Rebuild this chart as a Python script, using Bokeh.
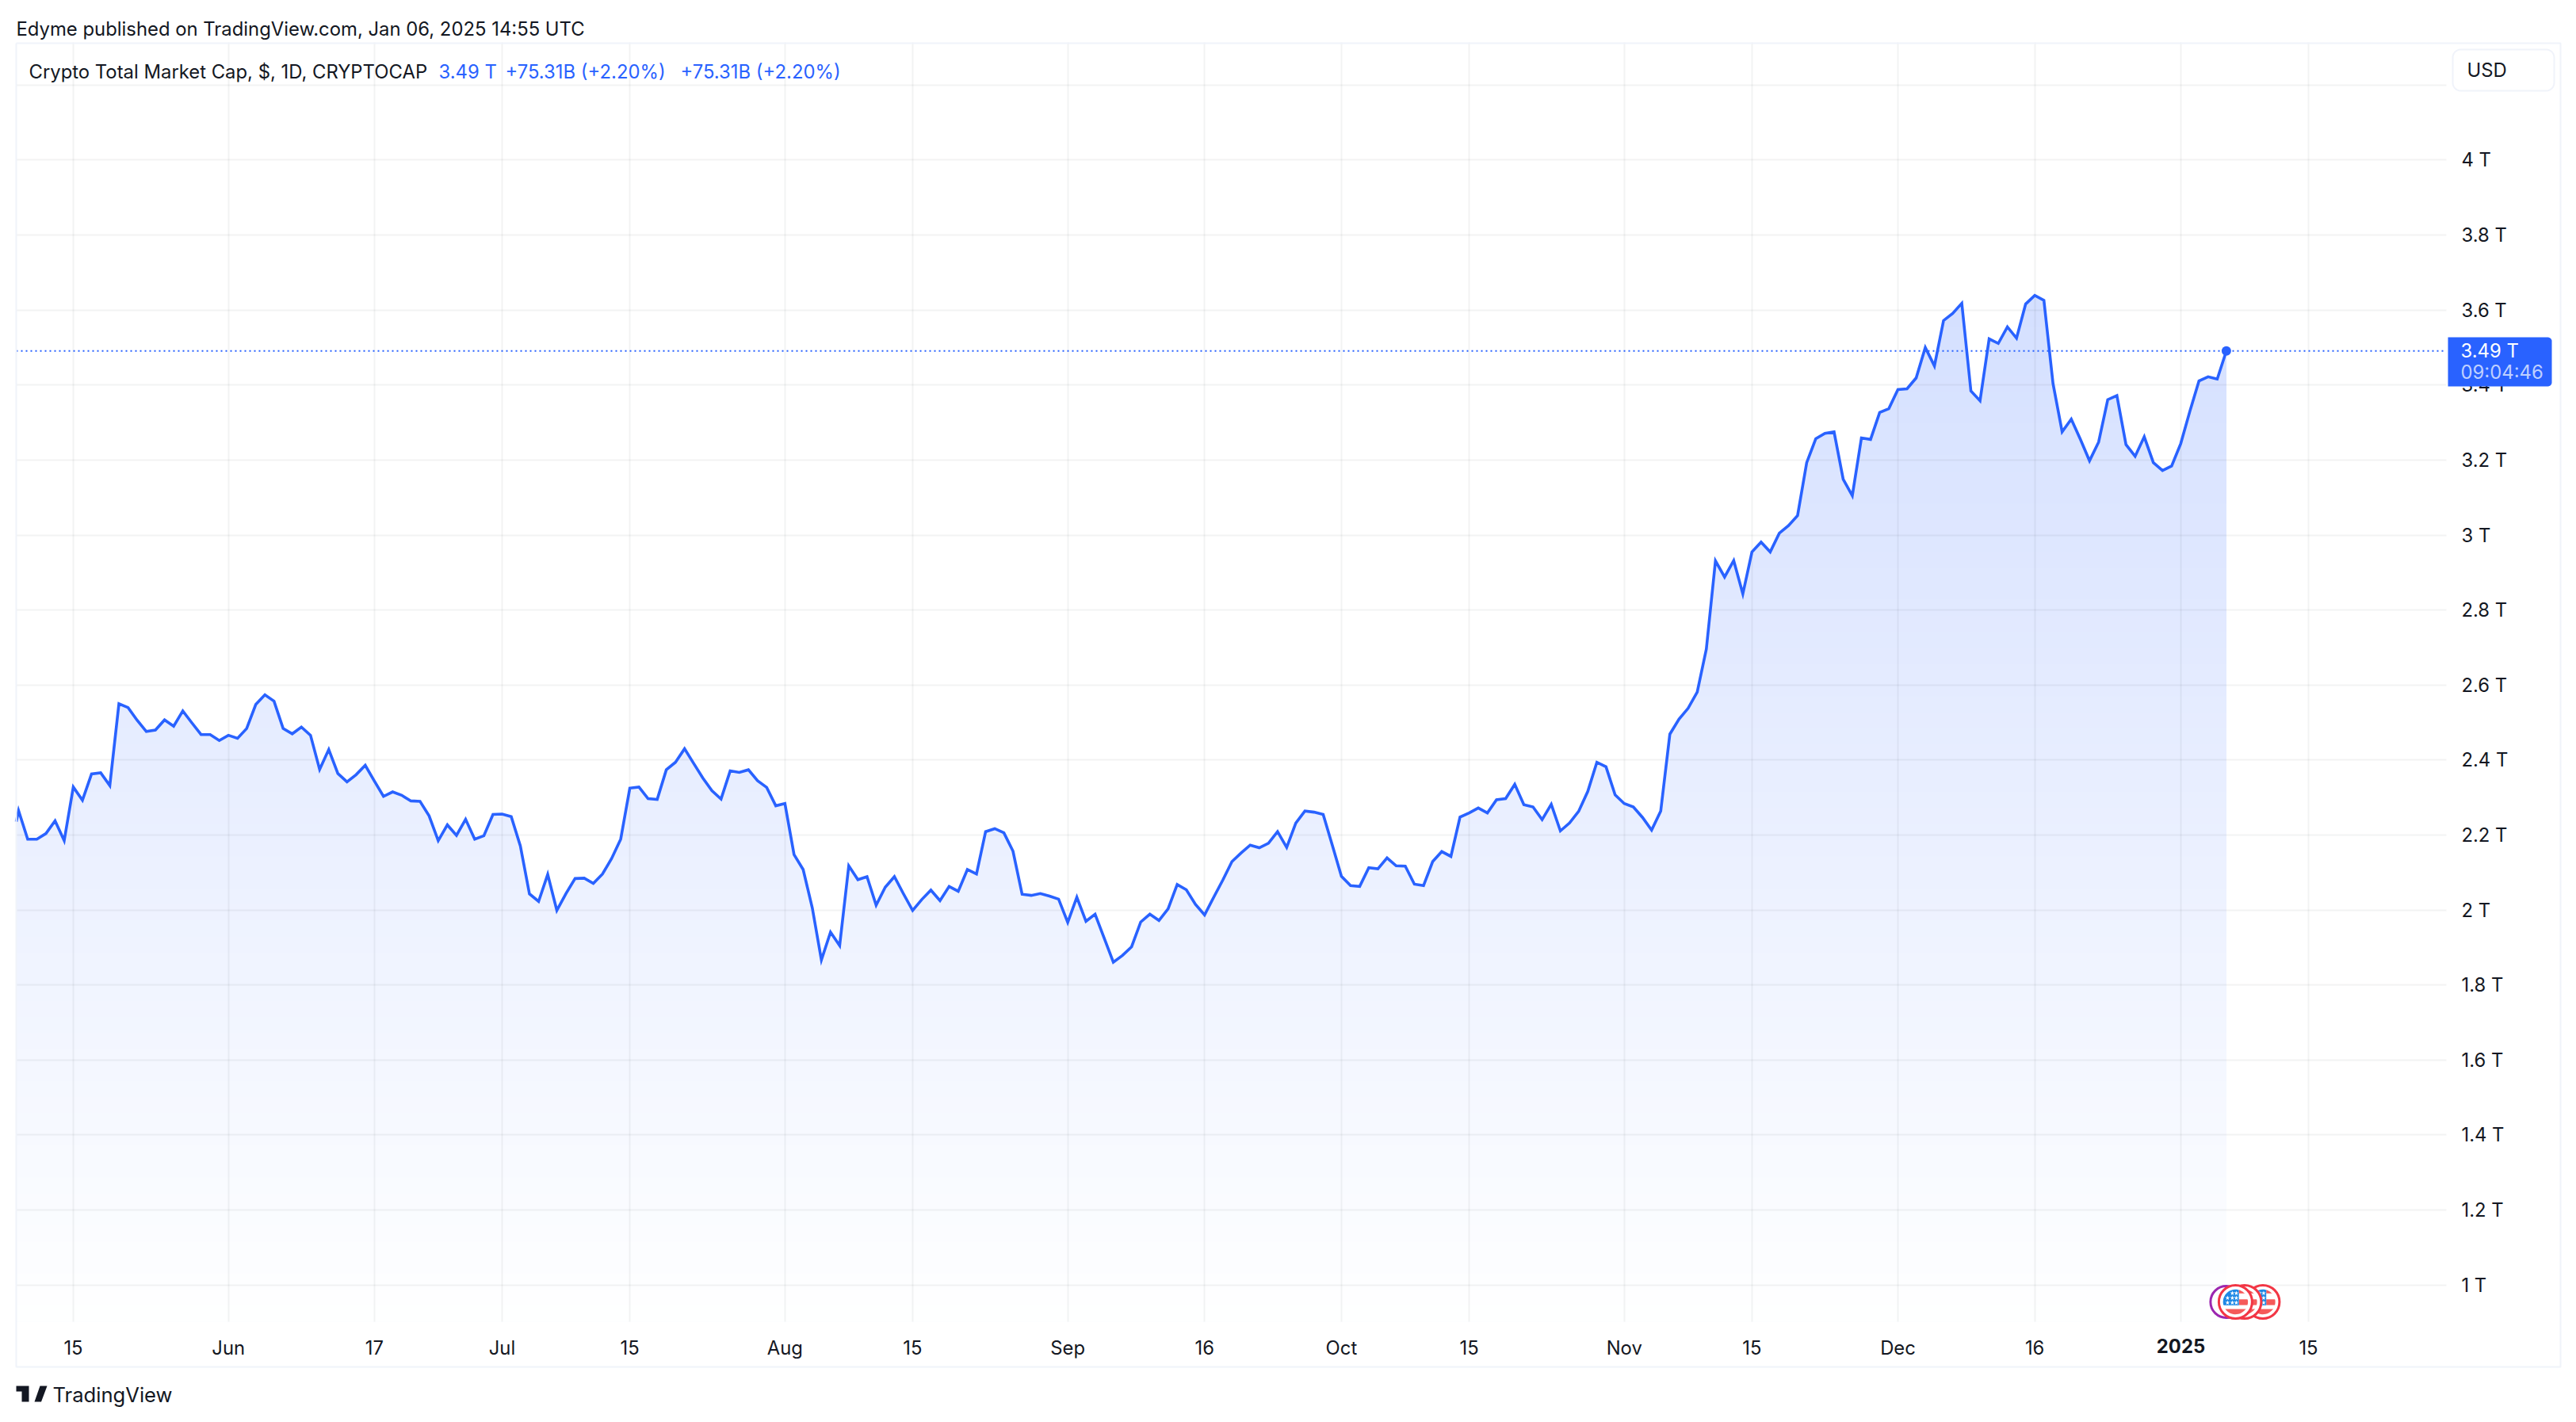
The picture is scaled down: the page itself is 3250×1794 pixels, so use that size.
import numpy as np
import pandas as pd
from bokeh.plotting import figure
from bokeh.embed import file_html
from bokeh.resources import INLINE
from bokeh.models import Range1d, FixedTicker
from bokeh.core.properties import value

# ---- data: daily closing value, trillions USD
may_2024 = [2.150, 2.265, 2.189, 2.189, 2.204, 2.238, 2.185, 2.328, 2.293, 2.363, 2.366, 2.332,
            2.550, 2.540, 2.506, 2.476, 2.480, 2.507, 2.490, 2.531, 2.499, 2.468, 2.468, 2.452]
jun_2024 = [2.466, 2.458, 2.484, 2.548, 2.574, 2.557, 2.484, 2.470, 2.488, 2.466,
            2.375, 2.428, 2.364, 2.342, 2.361, 2.386, 2.344, 2.303, 2.315, 2.306,
            2.291, 2.290, 2.251, 2.185, 2.227, 2.199, 2.242, 2.189, 2.198, 2.255]
jul_2024 = [2.256, 2.249, 2.171, 2.043, 2.023, 2.095, 1.999, 2.044, 2.084, 2.085,
            2.071, 2.096, 2.137, 2.189, 2.325, 2.328, 2.297, 2.295, 2.374, 2.394,
            2.430, 2.391, 2.352, 2.318, 2.296, 2.371, 2.367, 2.374, 2.345, 2.327, 2.278]
aug_2024 = [2.284, 2.148, 2.108, 2.006, 1.867, 1.941, 1.905, 2.118, 2.081, 2.089,
            2.013, 2.061, 2.089, 2.043, 1.999, 2.028, 2.053, 2.025, 2.063, 2.050,
            2.108, 2.096, 2.209, 2.217, 2.206, 2.157, 2.042, 2.039, 2.044, 2.037, 2.029]
sep_2024 = [1.967, 2.034, 1.970, 1.989, 1.925, 1.861, 1.879, 1.902, 1.968, 1.989,
            1.972, 2.003, 2.068, 2.054, 2.015, 1.987, 2.034, 2.080, 2.129, 2.152,
            2.173, 2.166, 2.178, 2.209, 2.167, 2.232, 2.264, 2.261, 2.255, 2.173]
oct_2024 = [2.090, 2.065, 2.063, 2.113, 2.110, 2.139, 2.118, 2.117, 2.069, 2.065,
            2.129, 2.156, 2.143, 2.248, 2.259, 2.272, 2.259, 2.294, 2.297, 2.335,
            2.281, 2.275, 2.241, 2.282, 2.211, 2.232, 2.263, 2.316, 2.394, 2.382, 2.307]
nov_2024 = [2.284, 2.275, 2.247, 2.213, 2.264, 2.469, 2.509, 2.538, 2.581, 2.696,
            2.931, 2.888, 2.932, 2.843, 2.955, 2.981, 2.955, 3.005, 3.025, 3.052,
            3.193, 3.257, 3.271, 3.275, 3.149, 3.105, 3.259, 3.255, 3.327, 3.337]
dec_2024 = [3.388, 3.390, 3.419, 3.500, 3.451, 3.572, 3.591, 3.618, 3.384, 3.358,
            3.523, 3.511, 3.555, 3.525, 3.616, 3.639, 3.626, 3.404, 3.275, 3.309,
            3.255, 3.198, 3.248, 3.361, 3.372, 3.241, 3.210, 3.262, 3.193, 3.172, 3.184]
jan_2025 = [3.244, 3.330, 3.411, 3.422, 3.416, 3.491]

first_day = "2024-05-08"
tick_dates = ["2024-05-15", "2024-06-01", "2024-06-17", "2024-07-01", "2024-07-15", "2024-08-01",
              "2024-08-15", "2024-09-01", "2024-09-16", "2024-10-01", "2024-10-15", "2024-11-01",
              "2024-11-15", "2024-12-01", "2024-12-16", "2025-01-01", "2025-01-15"]
tick_labels = ["15", "Jun", "17", "Jul", "15", "Aug", "15", "Sep", "16", "Oct", "15", "Nov",
               "15", "Dec", "16", "", "15"]
y_ticks = [1.0, 1.2, 1.4, 1.6, 1.8, 2.0, 2.2, 2.4, 2.6, 2.8, 3.0, 3.2, 3.4, 3.6, 3.8, 4.0, 4.2]
y_labels = ["1 T", "1.2 T", "1.4 T", "1.6 T", "1.8 T", "2 T", "2.2 T", "2.4 T", "2.6 T", "2.8 T",
            "3 T", "3.2 T", "3.4 T", "3.6 T", "3.8 T", "4 T", ""]
event_dates_flag = ["2025-01-10", "2025-01-08", "2025-01-07"]
event_date_other = "2025-01-06"

# ---- derived
BLUE = "#2962FF"
INK = "#131722"
FRAME = "#F0F3FA"
FONT = "Inter"
origin = pd.Timestamp("2024-05-15")
vals = may_2024 + jun_2024 + jul_2024 + aug_2024 + sep_2024 + oct_2024 + nov_2024 + dec_2024 + jan_2025
dates = pd.date_range(first_day, periods=len(vals))
x = np.array([(d - origin).days for d in dates], dtype=float)
vals = np.array(vals)
day = lambda s: float((pd.Timestamp(s) - origin).days)
X_MIN, X_MAX = -6.255, 260.12
Y_MIN, Y_MAX = 0.9021, 4.3137
PX_X = 3066 / (X_MAX - X_MIN)
PX_Y = 1614 / (Y_MAX - Y_MIN)

p = figure(width=3250, height=1794, output_backend="svg", toolbar_location=None,
           x_range=Range1d(X_MIN, X_MAX), y_range=Range1d(Y_MIN, Y_MAX),
           y_axis_location="right", min_border_left=20, min_border_right=164,
           min_border_top=53, min_border_bottom=127)
p.outline_line_color = None
p.background_fill_color = "white"
p.border_fill_color = "white"

# axes
xticks = [day(s) for s in tick_dates]
p.xaxis.ticker = FixedTicker(ticks=xticks)
p.xaxis.major_label_overrides = dict(zip(xticks, tick_labels))
p.yaxis.ticker = FixedTicker(ticks=y_ticks)
p.yaxis.major_label_overrides = dict(zip(y_ticks, y_labels))
for ax in (p.xaxis, p.yaxis):
    ax.axis_line_color = None
    ax.major_tick_line_color = None
    ax.minor_tick_line_color = None
    ax.major_label_text_font = FONT
    ax.major_label_text_font_size = "23.8px"
    ax.major_label_text_color = INK
p.xaxis.major_label_standoff = 12
p.yaxis.major_label_standoff = 13

# grid above the area, translucent as in the original
for g in (p.xgrid, p.ygrid):
    g.grid_line_color = "#2A2E39"
    g.grid_line_alpha = 0.06
    g.grid_line_width = 2
    g.level = "guide"

# gradient area: opaque bands painted top to bottom, then white mask above the line
n_bands = 64
grad_top = 3.64
base = np.array([0x29, 0x62, 0xFF])
tops, cols = [], []
for i in range(n_bands):
    t = i / n_bands
    tops.append(grad_top - (grad_top - Y_MIN) * t)
    a = 0.2 * (1 - t)
    c = (255 * (1 - a) + base * a).round().astype(int)
    cols.append("#%02X%02X%02X" % tuple(c))
p.quad(left=x[0], right=x[-1], top=tops, bottom=Y_MIN, fill_color=cols, line_color=None)
mx = np.append(x, x[-1] + 0.5)
mv = np.append(vals, vals[-1])
p.varea(x=mx, y1=mv, y2=Y_MAX, fill_color="white")

# series cut at the left edge of the pane (this render level is not clipped)
lx = x.copy()
lv = vals.copy()
lv[0] = np.interp(X_MIN, x[:2], vals[:2])
lx[0] = X_MIN

# last price line, series and dot
p.line([X_MIN, X_MAX], [vals[-1], vals[-1]], line_color=BLUE, line_width=2, line_dash="2 4", level="annotation")
p.line(lx, lv, line_color=BLUE, line_width=3.6, line_join="miter", level="annotation")
p.scatter([x[-1]], [vals[-1]], size=12, fill_color=BLUE, line_color=None, level="annotation")

# economic event badges
flag_y = 1 - (1642 - 1620.7) / PX_Y


def clamped(cx, r, xlo=-99, xhi=99, ylo=-99, yhi=99):
    a = np.linspace(0, 2 * np.pi, 48)
    px = np.clip(r * np.cos(a), xlo, xhi)
    py = np.clip(r * np.sin(a), ylo, yhi)
    return list(cx + px / PX_X), list(flag_y - py / PX_Y)


p.scatter([day(event_date_other)], [flag_y], size=40, fill_color="white", line_color="#9C27B0", line_width=3, level="overlay")
for s in event_dates_flag:
    cx = day(s)
    p.scatter([cx], [flag_y], size=42, fill_color="white", line_color="#F23645", line_width=3, level="overlay")
    xs, ys = [], []
    for kw in (dict(xlo=4.3, ylo=-16, yhi=-10.7), dict(xlo=4.3, ylo=-3.3, yhi=4), dict(ylo=9, yhi=17)):
        a, b = clamped(cx, 15.7, **kw)
        xs.append(a)
        ys.append(b)
    p.patches(xs, ys, fill_color="#F55A5A", line_color=None, level="overlay")
    a, b = clamped(cx, 15.7, xhi=4.3, yhi=4.3)
    p.patch(a, b, fill_color="#1E88E5", line_color=None, level="overlay")
    sx = [cx + dx / PX_X for dx in (-4, 1, -10, -4, 1, -10, -4, 1)]
    sy = [flag_y - dy / PX_Y for dy in (-11, -11, -5, -5, -5, 1, 1, 1)]
    p.scatter(sx, sy, marker="star", size=6, fill_color="white", line_color=None, level="overlay")


# ---- page furniture, given in page pixels and drawn through the scales
def dx(px):
    return X_MIN + (np.asarray(px, dtype=float) - 20) / PX_X


def dy(py):
    return Y_MAX - (np.asarray(py, dtype=float) - 53) / PX_Y


def txt(s, px, py, size=23.85, color=INK, style="normal", align="left"):
    p.text(x=[float(dx(px))], y=[float(dy(py))], text=[s], text_font=value(FONT),
           text_font_size=f"{size}px", text_color=color, text_font_style=style,
           text_align=align, text_baseline="middle", level="overlay")


def rounded(l, r, t, b, rl, rr):
    pts = []
    for (cx, cy, rad, a0) in ((r - rr, t + rr, rr, -90), (r - rr, b - rr, rr, 0),
                              (l + rl, b - rl, rl, 90), (l + rl, t + rl, rl, 180)):
        for ang in np.radians(np.linspace(a0, a0 + 90, 7)):
            pts.append((cx + rad * np.cos(ang), cy + rad * np.sin(ang)))
    return dx([q[0] for q in pts]), dy([q[1] for q in pts])


# outer frame
p.line(dx([20, 3230, 3230, 20, 20]), dy([54, 54, 1724, 1724, 54]), line_color=FRAME, line_width=2, level="overlay")

txt("Edyme published on TradingView.com, Jan 06, 2025 14:55 UTC", 20, 36)
txt("Crypto Total Market Cap, $, 1D, CRYPTOCAP", 36, 90)
txt("3.49 T", 553, 90, color=BLUE)
txt("+75.31B (+2.20%)", 637, 90, color=BLUE)
txt("+75.31B (+2.20%)", 858, 90, color=BLUE)

# USD button
bx, by = rounded(3094, 3222, 62, 114, 10, 10)
p.patch(np.append(bx, bx[0]), np.append(by, by[0]), fill_color="white", line_color=FRAME, line_width=2, level="overlay")
txt("USD", 3112, 88)

# last price tag
bx, by = rounded(3088, 3219, 425, 487, 0, 5)
p.patch(bx, by, fill_color=BLUE, line_color=None, level="overlay")
txt("3.49 T", 3104, 442, color="white")
txt("09:04:46", 3104, 469, color="#BFD0FF")

# bold year tick
txt("2025", 2751, 1697, style="bold", align="center")

# TradingView logo
for pts in ([(20, 1748), (36, 1748), (36, 1768), (27, 1768), (27, 1755), (20, 1755)],
            [(50, 1748), (59, 1748), (51.5, 1768), (43, 1768)]):
    p.patch(dx([q[0] for q in pts]), dy([q[1] for q in pts]), fill_color=INK, line_color=None, level="overlay")
p.scatter([float(dx(42))], [float(dy(1752))], size=7, fill_color=INK, line_color=None, level="overlay")
txt("TradingView", 66, 1759, size=25.6)

open("out.html", "w").write(file_html(p, INLINE))
